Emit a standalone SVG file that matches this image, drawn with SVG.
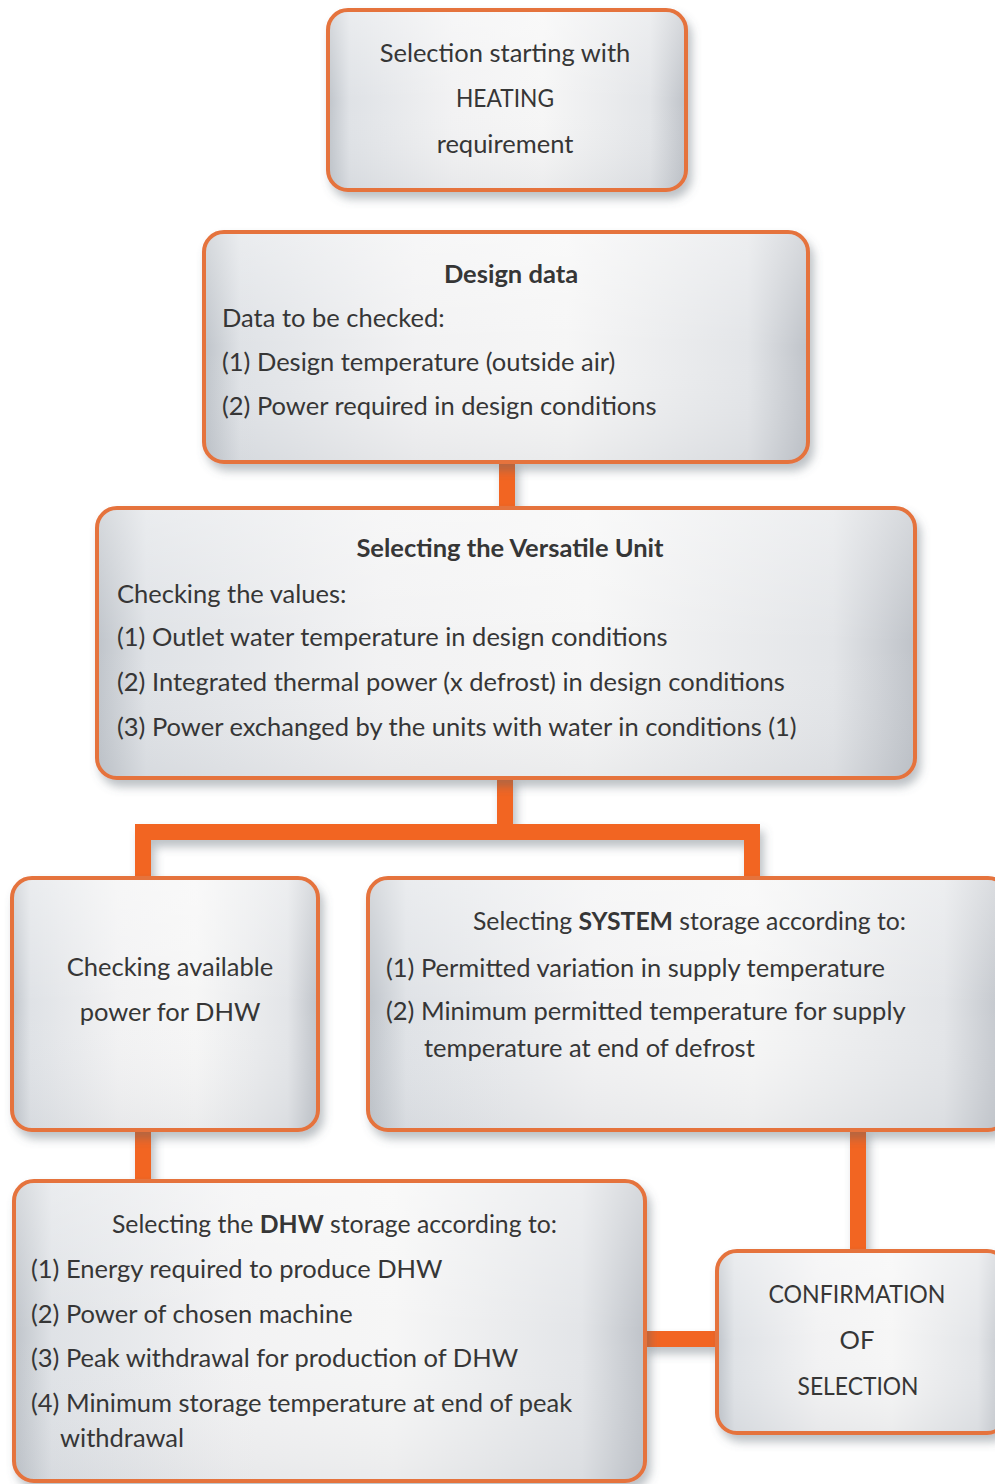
<svg xmlns="http://www.w3.org/2000/svg" width="995" height="1484" viewBox="0 0 995 1484">
  <defs>
    <!-- brushed-metal style fill for the boxes -->
    <linearGradient id="metal" x1="0" y1="0" x2="1" y2="0">
      <stop offset="0" stop-color="#bfc4ca"/>
      <stop offset="0.06" stop-color="#dfe2e6"/>
      <stop offset="0.35" stop-color="#f2f2f3"/>
      <stop offset="0.6" stop-color="#f6f6f6"/>
      <stop offset="0.9" stop-color="#e3e5e8"/>
      <stop offset="1" stop-color="#bfc3c9"/>
    </linearGradient>
    <linearGradient id="sheen" x1="0" y1="0" x2="0" y2="1">
      <stop offset="0" stop-color="#ffffff" stop-opacity="0.35"/>
      <stop offset="0.5" stop-color="#ffffff" stop-opacity="0"/>
      <stop offset="1" stop-color="#9aa0a8" stop-opacity="0.12"/>
    </linearGradient>
    <filter id="shadow" x="-10%" y="-10%" width="125%" height="130%">
      <feDropShadow dx="4" dy="7" stdDeviation="5" flood-color="#5a6470" flood-opacity="0.4"/>
    </filter>
  </defs>
  <style>
    .box { fill: url(#metal); stroke: #e5733e; stroke-width: 4; filter: url(#shadow); }
    .gloss { fill: url(#sheen); stroke: none; }
    .wire { fill: none; stroke: #f26522; stroke-width: 16; stroke-linejoin: miter; }
    text { font-family: "Lato", "Open Sans", "Liberation Sans", sans-serif; font-size: 25.5px; fill: #363636; }
    .c { text-anchor: middle; }
    .b { font-weight: bold; }
  </style>

  <rect width="995" height="1484" fill="#ffffff"/>

  <!-- connectors, drawn under the boxes -->
  <g id="connectors" filter="url(#shadow)">
    <path class="wire" d="M507 460 V510"/>
    <path class="wire" d="M505 776 V832 H143 V880"/>
    <path class="wire" d="M505 832 H752 V880"/>
    <path class="wire" d="M143 1128 V1182"/>
    <path class="wire" d="M858 1128 V1252"/>
    <path class="wire" d="M643 1339 H719"/>
  </g>

  <g id="start">
    <rect class="box" x="328" y="10" width="358" height="180" rx="20"/>
    <rect class="gloss" x="330" y="12" width="354" height="176" rx="18"/>
    <text class="c" x="505" y="62">Selection starting with</text>
    <text class="c" x="505" y="107" textLength="98" lengthAdjust="spacingAndGlyphs">HEATING</text>
    <text class="c" x="505" y="153">requirement</text>
  </g>

  <g id="design-data">
    <rect class="box" x="204" y="232" width="604" height="230" rx="20"/>
    <rect class="gloss" x="206" y="234" width="600" height="226" rx="18"/>
    <text class="c b" x="511" y="283">Design data</text>
    <text x="222" y="327">Data to be checked:</text>
    <text x="222" y="371">(1) Design temperature (outside air)</text>
    <text x="222" y="415">(2) Power required in design conditions</text>
  </g>

  <g id="versatile-unit">
    <rect class="box" x="97" y="508" width="818" height="270" rx="20"/>
    <rect class="gloss" x="99" y="510" width="814" height="266" rx="18"/>
    <text class="c b" x="510" y="557">Selecting the Versatile Unit</text>
    <text x="117" y="603">Checking the values:</text>
    <text x="117" y="646">(1) Outlet water temperature in design conditions</text>
    <text x="117" y="691">(2) Integrated thermal power (x defrost) in design conditions</text>
    <text x="117" y="736">(3) Power exchanged by the units with water in conditions (1)</text>
  </g>

  <g id="dhw-power">
    <rect class="box" x="12" y="878" width="306" height="252" rx="20"/>
    <rect class="gloss" x="14" y="880" width="302" height="248" rx="18"/>
    <text class="c" x="170" y="976">Checking available</text>
    <text class="c" x="170" y="1021">power for DHW</text>
  </g>

  <g id="system-storage">
    <rect class="box" x="368" y="878" width="640" height="252" rx="20"/>
    <rect class="gloss" x="370" y="880" width="636" height="248" rx="18"/>
    <text x="473" y="930" textLength="433" lengthAdjust="spacingAndGlyphs">Selecting <tspan class="b">SYSTEM</tspan> storage according to:</text>
    <text x="386" y="977">(1) Permitted variation in supply temperature</text>
    <text x="386" y="1020">(2) Minimum permitted temperature for supply</text>
    <text x="424" y="1057">temperature at end of defrost</text>
  </g>

  <g id="dhw-storage">
    <rect class="box" x="14" y="1181" width="631" height="300" rx="20"/>
    <rect class="gloss" x="16" y="1183" width="627" height="296" rx="18"/>
    <text x="112" y="1233" textLength="445" lengthAdjust="spacingAndGlyphs">Selecting the <tspan class="b">DHW</tspan> storage according to:</text>
    <text x="31" y="1278">(1) Energy required to produce DHW</text>
    <text x="31" y="1323">(2) Power of chosen machine</text>
    <text x="31" y="1367">(3) Peak withdrawal for production of DHW</text>
    <text x="31" y="1412">(4) Minimum storage temperature at end of peak</text>
    <text x="60" y="1447">withdrawal</text>
  </g>

  <g id="confirmation">
    <rect class="box" x="717" y="1251" width="290" height="182" rx="20"/>
    <rect class="gloss" x="719" y="1253" width="286" height="178" rx="18"/>
    <text class="c" x="857" y="1303" textLength="177" lengthAdjust="spacingAndGlyphs">CONFIRMATION</text>
    <text class="c" x="857" y="1349">OF</text>
    <text class="c" x="858" y="1395" textLength="121" lengthAdjust="spacingAndGlyphs">SELECTION</text>
  </g>
</svg>
